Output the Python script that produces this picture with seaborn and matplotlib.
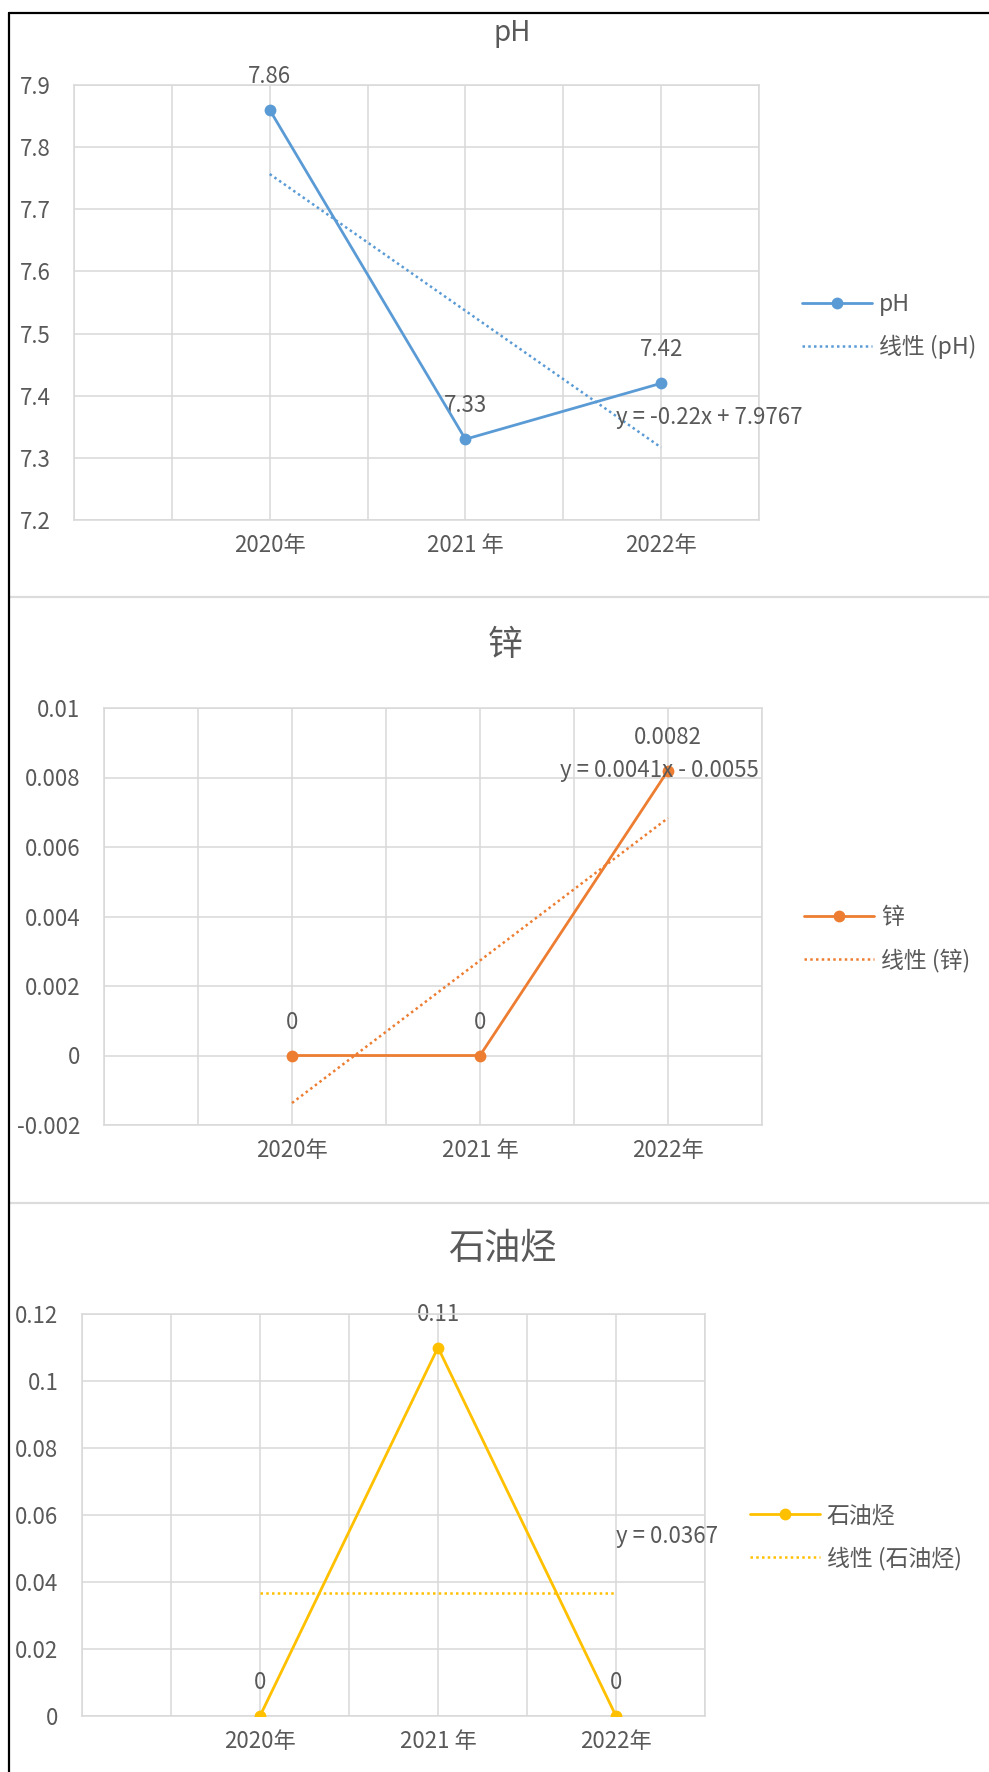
import numpy as np
import pandas as pd
import matplotlib
matplotlib.use("Agg")
import matplotlib.pyplot as plt
from matplotlib.lines import Line2D
import seaborn as sns

# ---------------- data ----------------
years = ["2020年", "2021 年", "2022年"]
ph_values = [7.86, 7.33, 7.42]
zinc_values = [0.0, 0.0, 0.0082]
tph_values = [0.0, 0.11, 0.0]

ph_labels = ["7.86", "7.33", "7.42"]
zinc_labels = ["0", "0", "0.0082"]
tph_labels = ["0", "0.11", "0"]

titles = ["pH", "锌", "石油烃"]
series_names = ["pH", "锌", "石油烃"]
trend_names = ["线性 (pH)", "线性 (锌)", "线性 (石油烃)"]
equations = ["y = -0.22x + 7.9767", "y = 0.0041x - 0.0055", "y = 0.0367"]

ph_ticks = [7.2, 7.3, 7.4, 7.5, 7.6, 7.7, 7.8, 7.9]
ph_ticklabels = ["7.2", "7.3", "7.4", "7.5", "7.6", "7.7", "7.8", "7.9"]
zinc_ticks = [-0.002, 0, 0.002, 0.004, 0.006, 0.008, 0.01]
zinc_ticklabels = ["-0.002", "0", "0.002", "0.004", "0.006", "0.008", "0.01"]
tph_ticks = [0, 0.02, 0.04, 0.06, 0.08, 0.1, 0.12]
tph_ticklabels = ["0", "0.02", "0.04", "0.06", "0.08", "0.1", "0.12"]

# ---------------- style ----------------
sns.set_theme(style="white")
plt.rcParams["font.family"] = ["Noto Sans CJK SC", "DejaVu Sans"]

W, H = 989, 1772
fig = plt.figure(figsize=(W / 100, H / 100), dpi=100)
fig.patch.set_facecolor("white")

TXT = "#595959"
GRID = "#D9D9D9"
colors = ["#5B9BD5", "#ED7D31", "#FFC000"]
TICK_FS = 16
LABEL_FS = 16
LEG_FS = 16.5


def px_axes(left, right, top, bottom):
    return fig.add_axes([left / W, 1 - bottom / H, (right - left) / W, (bottom - top) / H])


panels = [
    dict(vals=ph_values, labels=ph_labels, ticks=ph_ticks, ticklabels=ph_ticklabels,
         box=(74, 759, 85, 520), title_xy=(512, 33), title_fs=20,
         legend_xy=(802, 326), eq_xy=(709, 418)),
    dict(vals=zinc_values, labels=zinc_labels, ticks=zinc_ticks, ticklabels=zinc_ticklabels,
         box=(104, 762, 708, 1125), title_xy=(505, 645), title_fs=25,
         legend_xy=(804, 939), eq_xy=(659, 770)),
    dict(vals=tph_values, labels=tph_labels, ticks=tph_ticks, ticklabels=tph_ticklabels,
         box=(82, 705, 1314, 1716), title_xy=(502, 1249), title_fs=26,
         legend_xy=(750, 1537), eq_xy=(667, 1537)),
]

pos = np.arange(len(years))

for i, p in enumerate(panels):
    ax = px_axes(*p["box"])
    df = pd.DataFrame({"pos": pos, "value": p["vals"]})
    c = colors[i]

    sns.regplot(data=df, x="pos", y="value", scatter=False, ci=None, truncate=True, ax=ax,
                line_kws=dict(ls=(0, (1, 1.3)), lw=1.8, color=c, zorder=2))
    sns.lineplot(data=df, x="pos", y="value", ax=ax, color=c, linewidth=2.0,
                 marker="o", markersize=8.5, markeredgewidth=0, zorder=3)

    ax.set_xlim(-1, 2.5)
    ax.set_ylim(p["ticks"][0], p["ticks"][-1])
    ax.set_xticks(pos)
    ax.set_xticklabels(years)
    ax.set_xticks([-1, -0.5, 0.5, 1.5, 2.5], minor=True)
    ax.set_yticks(p["ticks"])
    ax.set_yticklabels(p["ticklabels"])
    ax.set_xlabel("")
    ax.set_ylabel("")
    ax.grid(True, which="both", color=GRID, lw=1.1)
    ax.tick_params(which="both", length=0)
    ax.tick_params(axis="x", pad=10, labelsize=TICK_FS, labelcolor=TXT)
    ax.tick_params(axis="y", pad=17, labelsize=TICK_FS, labelcolor=TXT)
    for s in ax.spines.values():
        s.set_color(GRID)
        s.set_linewidth(1.1)
    ax.set_facecolor("white")

    for x, v, lab in zip(pos, p["vals"], p["labels"]):
        ax.annotate(lab, (x, v), xytext=(0, 24), textcoords="offset points",
                    ha="center", va="center", fontsize=LABEL_FS, color=TXT, zorder=1)

    fig.text(p["eq_xy"][0] / W, 1 - p["eq_xy"][1] / H, equations[i], ha="center", va="center",
             fontsize=LABEL_FS, color=TXT, zorder=1)

    fig.text(p["title_xy"][0] / W, 1 - p["title_xy"][1] / H, titles[i], ha="center",
             va="center", fontsize=p["title_fs"], color=TXT)

    handles = [
        Line2D([], [], color=c, lw=2.0, marker="o", markersize=8.5, markeredgewidth=0),
        Line2D([], [], color=c, lw=1.8, ls=(0, (1, 1.3))),
    ]
    leg = fig.legend(handles, [series_names[i], trend_names[i]], loc="center left",
                     bbox_to_anchor=(p["legend_xy"][0] / W, 1 - p["legend_xy"][1] / H),
                     frameon=False, fontsize=LEG_FS, handlelength=3.05, handletextpad=0.3,
                     labelspacing=0.85, borderpad=0, borderaxespad=0)
    for t in leg.get_texts():
        t.set_color(TXT)

# panel separators and outer border
for y in (597, 1203):
    fig.add_artist(Line2D([9 / W, 1], [1 - y / H, 1 - y / H], transform=fig.transFigure,
                          color="#DCDCDC", lw=1.6))
fig.add_artist(Line2D([9 / W, 1], [1 - 13 / H, 1 - 13 / H], transform=fig.transFigure,
                      color="black", lw=1.6))
fig.add_artist(Line2D([9 / W, 9 / W], [0, 1 - 13 / H], transform=fig.transFigure,
                      color="black", lw=1.6))

fig.savefig("out.png", dpi=100, facecolor="white")
